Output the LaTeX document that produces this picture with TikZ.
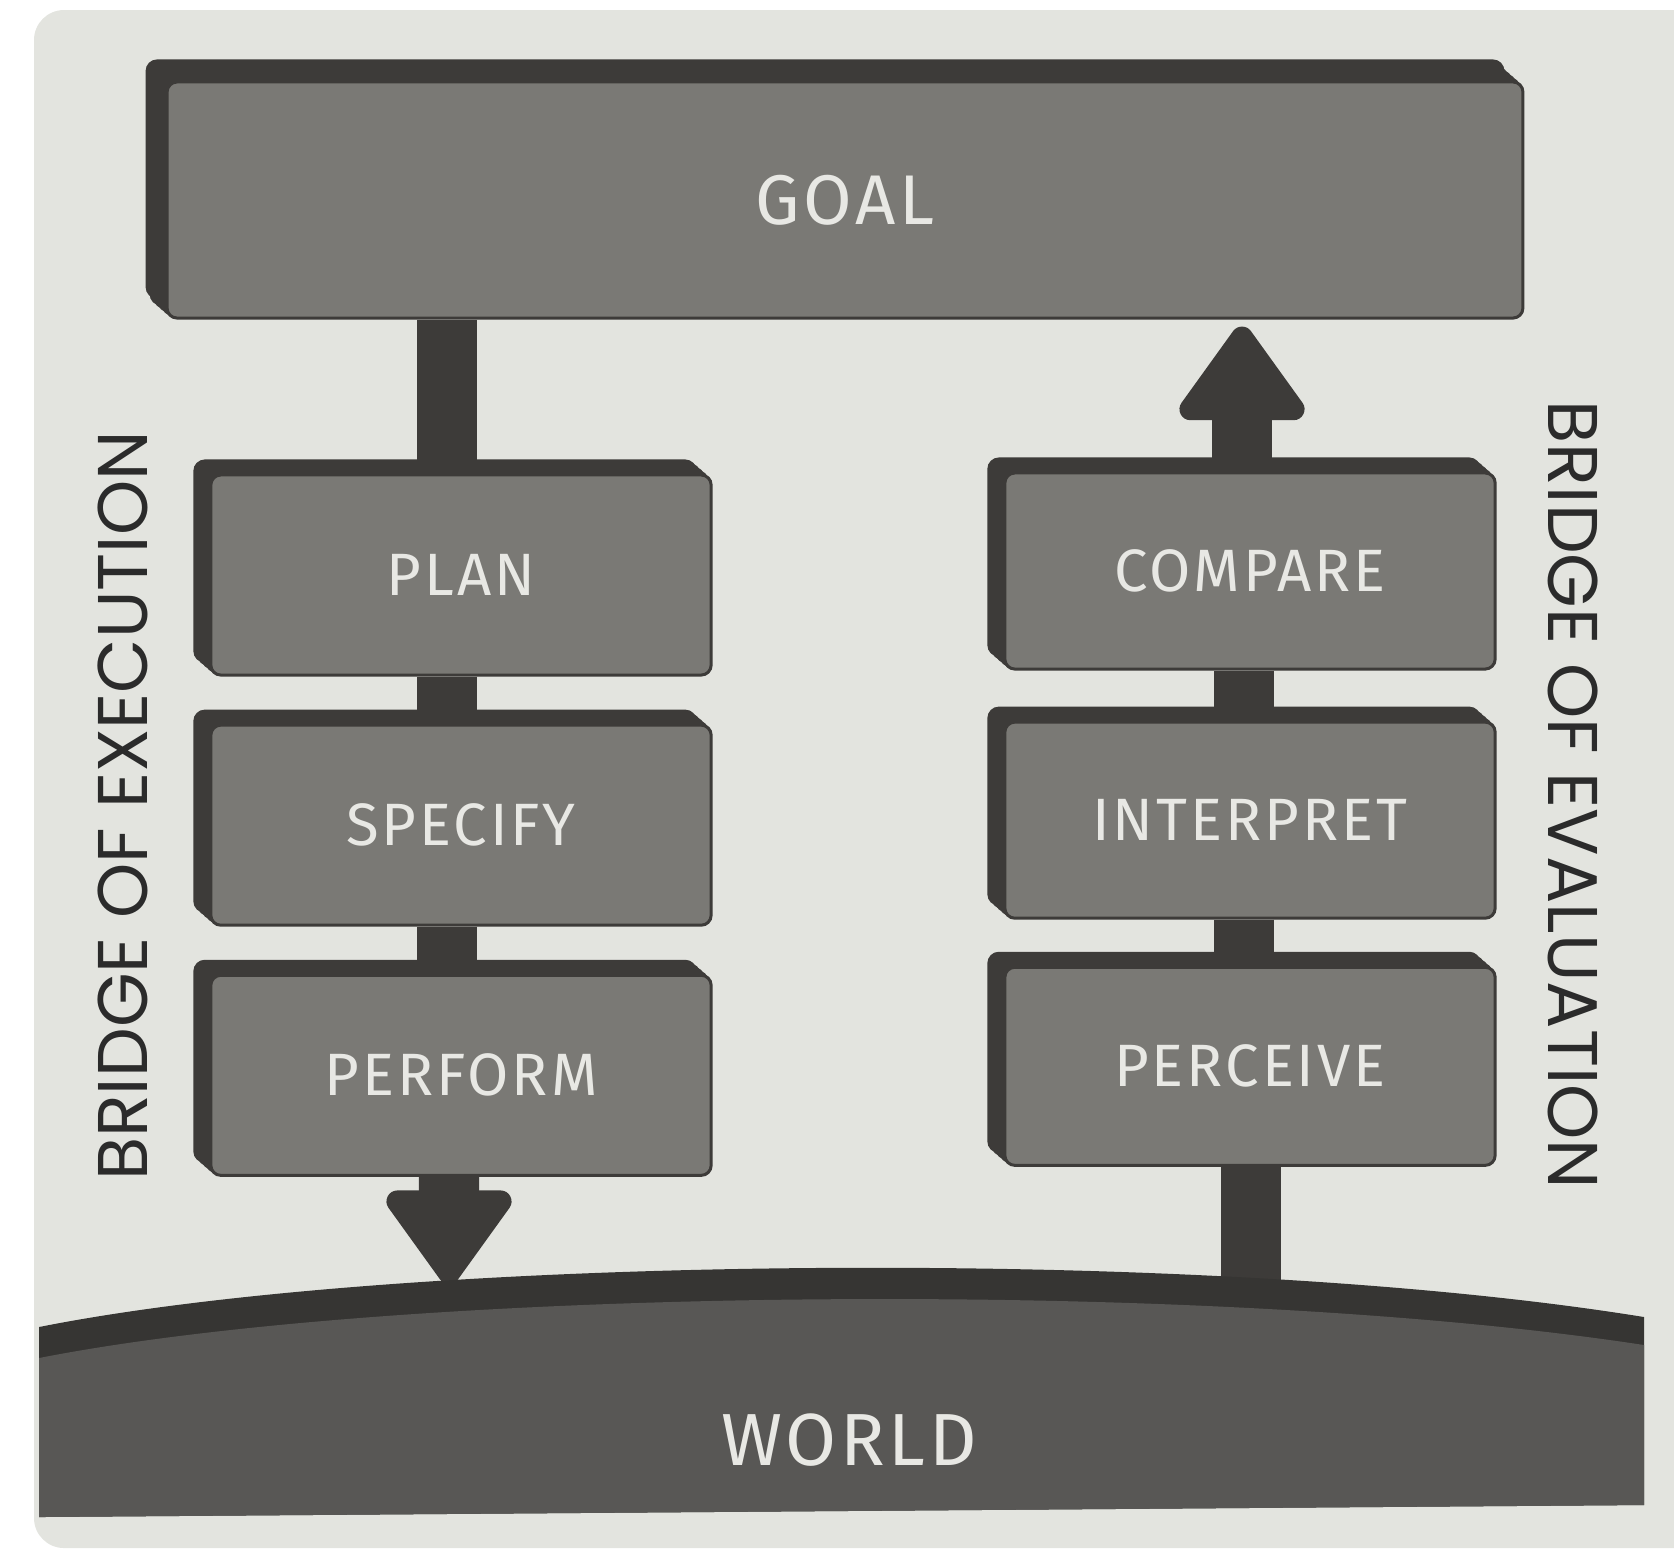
\documentclass[tikz,border=0pt]{standalone}
\usepackage{fontspec}
\usepackage{tikz}
\usetikzlibrary{positioning}
\usetikzlibrary{arrows.meta}
\usetikzlibrary{shadows}

\newfontfamily\boxfont{Fira Sans}[LetterSpace=5]
\newfontfamily\bridgefont{Poppins}

\definecolor{paper}{HTML}{E3E4DF}
\definecolor{face}{HTML}{7A7975}
\definecolor{slab}{HTML}{3D3B39}
\definecolor{ground}{HTML}{585755}
\definecolor{crust}{HTML}{363533}
\definecolor{label}{HTML}{E8E8E4}
\definecolor{ink}{HTML}{2B2B2B}

\tikzset{
  block/.style={rectangle, rounded corners=0.1cm, fill=face, draw=slab, line width=0.03cm,
    text=label, font=\boxfont\fontsize{17}{17}\selectfont,
    minimum width=5cm, minimum height=2cm, inner sep=0pt,
    copy shadow={shadow xshift=-0.16cm, shadow yshift=0.14cm, fill=slab, draw=slab},
    copy shadow={shadow xshift=-0.12cm, shadow yshift=0.105cm, fill=slab, draw=slab},
    copy shadow={shadow xshift=-0.08cm, shadow yshift=0.07cm, fill=slab, draw=slab},
    copy shadow={shadow xshift=-0.04cm, shadow yshift=0.035cm, fill=slab, draw=slab}},
  bar/.style={draw=slab, line width=0.6cm},
  tip/.style={-{Triangle[width=1.4cm,length=1.02cm,round,line width'=0.22cm]}},
  bridge/.style={font=\bridgefont\fontsize{20}{20}\selectfont, text=ink}
}

\begin{document}
\begin{tikzpicture}[x=0.01cm, y=-0.01cm]
  \useasboundingbox (0,0) rectangle (1674,1550);
  \clip (0,0) rectangle (1674,1550);

  % paper
  \fill[paper, rounded corners=0.3cm] (34,10) rectangle (1760,1548);

  % goal
  \node[block, minimum width=13.55cm, minimum height=2.36cm,
        font=\boxfont\fontsize{20}{20}\selectfont,
        copy shadow={shadow xshift=-0.2cm, shadow yshift=0.21cm, fill=slab, draw=slab}]
        (goal) at (845,200) {GOAL};

  % execution side
  \node[block] (plan) at (461,575) {PLAN};
  \node[block, below=0.47cm of plan] (specify) {SPECIFY};
  \node[block, below=0.47cm of specify] (perform) {PERFORM};

  % evaluation side
  \node[block, minimum width=4.9cm, minimum height=1.96cm] (compare) at (1250,571) {COMPARE};
  \node[block, minimum width=4.9cm, minimum height=1.96cm, below=0.5cm of compare] (interpret) {INTERPRET};
  \node[block, minimum width=4.9cm, minimum height=1.98cm, below=0.46cm of interpret] (perceive) {PERCEIVE};

  \coordinate (drop) at (449,1284);
  \coordinate (landing) at (1251,1300);

  % bridge of execution
  \draw[bar] ([xshift=-0.14cm]plan.north) -- ([xshift=-0.14cm]plan.north |- goal.south);
  \draw[bar] ([xshift=-0.14cm]plan.south) -- ([xshift=-0.14cm]specify.north);
  \draw[bar] ([xshift=-0.14cm]specify.south) -- ([xshift=-0.14cm]perform.north);
  \draw[bar, tip] ([xshift=-0.12cm]perform.south) -- (drop);

  % bridge of evaluation
  \draw[bar, tip, shorten >=0.07cm] ([xshift=-0.08cm]compare.north) -- ([xshift=-0.08cm]compare.north |- goal.south);
  \draw[bar] ([xshift=-0.06cm]compare.south) -- ([xshift=-0.06cm]interpret.north);
  \draw[bar] ([xshift=-0.06cm]interpret.south) -- ([xshift=-0.06cm]perceive.north);
  \draw[bar] (perceive.south -| landing) -- (landing);

  % world
  \fill[crust] (39,1327) .. controls (400,1255) and (1200,1245) .. (1644,1317)
     -- (1644,1505) -- (39,1517) -- cycle;
  \fill[ground] (39,1358) .. controls (400,1287) and (1200,1277) .. (1644,1345)
     -- (1644,1505) -- (39,1517) -- cycle;
  \node[text=label, font=\boxfont\fontsize{21}{21}\selectfont] (world) at (849,1440) {WORLD};

  % side labels
  \node[bridge, rotate=90] (execution) at (123,806) {BRIDGE OF EXECUTION};
  \node[bridge, rotate=-90] (evaluation) at (1573,795) {BRIDGE OF EVALUATION};
\end{tikzpicture}
\end{document}
